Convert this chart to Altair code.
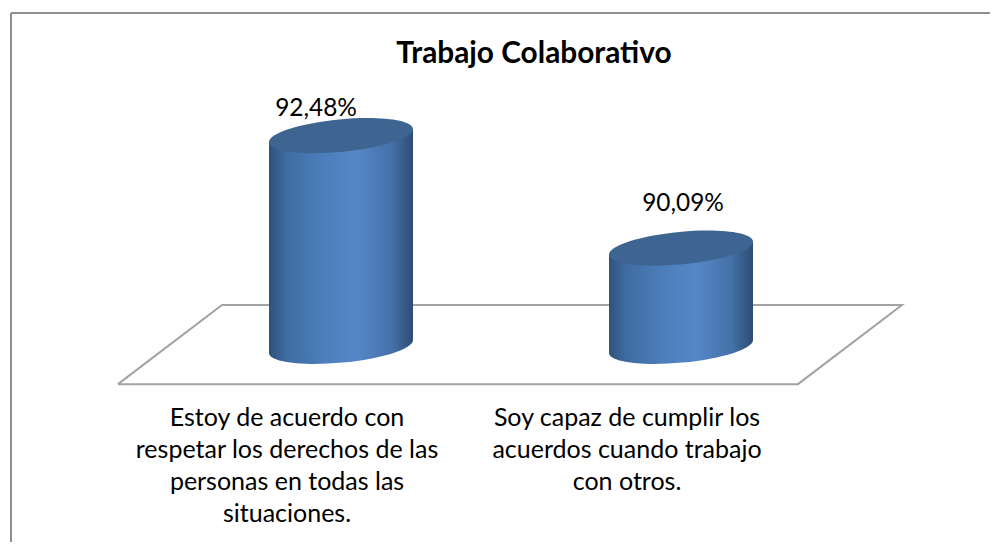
import altair as alt
import pandas as pd

TITLE = "Trabajo Colaborativo"
categories = ["Estoy de acuerdo con\nrespetar los derechos de las\npersonas en todas las\nsituaciones.",
              "Soy capaz de cumplir los\nacuerdos cuando trabajo\ncon otros."]
values = [92.48, 90.09]
value_labels = ["92,48%", "90,09%"]
base_value = 88.0
floor_x = [-0.656, -0.35, 1.65, 1.344, -0.656]
floor_y = [87.2, 88.88, 88.88, 87.2, 87.2]

W, H = 982, 534
X_UNIT = 340.0      # px per category step
PX_PER_VAL = 47.07
HALF = 72 / X_UNIT
TILT = 6.5 / PX_PER_VAL
x_scale = alt.Scale(domain=[-333 / X_UNIT, (W - 333) / X_UNIT], range=[0, W], nice=False, zero=False)
y_scale = alt.Scale(domain=[base_value - (H - 338.5) / PX_PER_VAL, base_value + 338.5 / PX_PER_VAL],
                    range=[H, 0], nice=False, zero=False)
X = lambda f: alt.X(f, type="quantitative", scale=x_scale, axis=None, title=None)
Y = lambda f: alt.Y(f, type="quantitative", scale=y_scale, axis=None, title=None)

body_grad = alt.Gradient(gradient="linear", x1=0, x2=1, y1=0, y2=0, stops=[
    alt.GradientStop(offset=0, color="#2f527b"),
    alt.GradientStop(offset=0.12, color="#3f6ca2"),
    alt.GradientStop(offset=0.35, color="#4b7db8"),
    alt.GradientStop(offset=0.6, color="#5587c8"),
    alt.GradientStop(offset=0.85, color="#4471a8"),
    alt.GradientStop(offset=1, color="#2e4c73"),
])
ELLIPSE = "M-1,0A1,0.224 0 1 1 1,0A1,0.224 0 1 1 -1,0Z"
ELL_SIZE = 4 * 72.3 ** 2

floor_df = pd.DataFrame({"x": floor_x, "y": floor_y, "i": range(len(floor_x))})
floor = alt.Chart(floor_df).mark_line(color="#a3a3a3", strokeWidth=2).encode(
    x=X("x"), y=Y("y"), order=alt.Order("i:Q"))

frame_left = alt.Chart(pd.DataFrame({"a": [0]})).mark_rule(color="#8f8f8f", strokeWidth=2).encode(
    x=alt.value(3), y=alt.value(5), y2=alt.value(H))
frame_top = alt.Chart(pd.DataFrame({"a": [0]})).mark_rule(color="#8f8f8f", strokeWidth=2).encode(
    y=alt.value(5), x=alt.value(3), x2=alt.value(W))

rows = []
for i, v in enumerate(values):
    rows.append({"c": i, "x": i - HALF, "top": v - TILT, "bot": base_value - TILT})
    rows.append({"c": i, "x": i + HALF, "top": v + TILT, "bot": base_value + TILT})
body_df = pd.DataFrame(rows)
centers = pd.DataFrame({"c": range(len(values)), "v": values, "base": [base_value] * len(values),
                        "lab": value_labels, "cat": categories})

layers = [floor, frame_left, frame_top]
shape_kw = dict(shape=ELLIPSE, size=ELL_SIZE, angle=354.6, filled=True, opacity=1, strokeWidth=0)
layers.append(alt.Chart(centers).mark_point(color=body_grad, **shape_kw).encode(x=X("c"), y=Y("base")))
for i in range(len(values)):
    layers.append(alt.Chart(body_df[body_df.c == i]).mark_area(color=body_grad, opacity=1).encode(
        x=X("x"), y=Y("top"), y2="bot:Q"))
layers.append(alt.Chart(centers).mark_point(color="#3e6591", **shape_kw).encode(x=X("c"), y=Y("v")))

label_font = "Lato"
offsets = [(-25, -26.5), (2, -44.5)]
cat_pos = [279, 619]
for i in range(len(values)):
    d = centers[centers.c == i]
    layers.append(alt.Chart(d).mark_text(font=label_font, fontSize=24.4, color="#000000",
                                         dx=offsets[i][0], dy=offsets[i][1]).encode(
        x=X("c"), y=Y("v"), text="lab:N"))
    layers.append(alt.Chart(d).mark_text(font=label_font, fontSize=25, color="#000000", align="center",
                                         baseline="top", lineBreak="\n", lineHeight=32).encode(
        x=alt.value(cat_pos[i]), y=alt.value(398), text="cat:N"))

chart = alt.layer(*layers).properties(
    width=W, height=H, padding=0, background="white",
    autosize=alt.AutoSizeParams(type="none"),
    title=alt.TitleParams(TITLE, font=label_font, fontSize=29.8, fontWeight="bold", color="#000000",
                          anchor="middle", offset=-61, dx=35),
).configure_view(stroke=None)

chart.save("out.html", embed_options={"renderer": "svg", "actions": False})
